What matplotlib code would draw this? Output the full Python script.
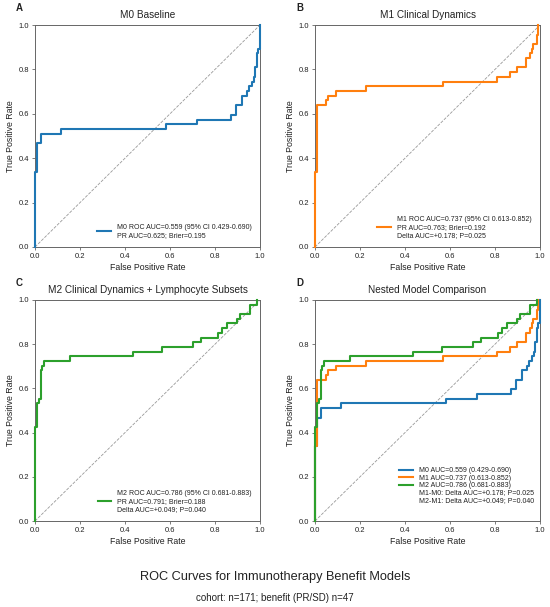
import matplotlib
matplotlib.use("Agg")
import matplotlib.pyplot as plt

plt.rcParams['font.family'] = ['Liberation Sans', 'DejaVu Sans']

# ROC step points (fpr, tpr), drawn as steps-post
m0_fpr = [0.0, 0.0, 0.010, 0.025, 0.115, 0.580, 0.720, 0.870, 0.893, 0.919, 0.944, 0.953, 0.963, 0.973, 0.979, 0.985, 0.993, 1.0]
m0_tpr = [0.0, 0.340, 0.468, 0.511, 0.532, 0.553, 0.574, 0.596, 0.638, 0.681, 0.702, 0.723, 0.745, 0.766, 0.809, 0.872, 0.894, 1.0]

m1_fpr = [0.0, 0.0, 0.010, 0.049, 0.059, 0.092, 0.225, 0.570, 0.807, 0.867, 0.896, 0.936, 0.955, 0.963, 0.970, 0.985, 0.993]
m1_tpr = [0.0, 0.340, 0.638, 0.660, 0.681, 0.702, 0.723, 0.745, 0.766, 0.787, 0.809, 0.851, 0.872, 0.894, 0.915, 0.957, 1.0]

m2_fpr = [0.0, 0.0, 0.010, 0.019, 0.025, 0.033, 0.040, 0.156, 0.437, 0.566, 0.704, 0.737, 0.815, 0.830, 0.852, 0.896, 0.911, 0.956, 0.985]
m2_tpr = [0.0, 0.426, 0.532, 0.553, 0.681, 0.702, 0.723, 0.745, 0.766, 0.787, 0.809, 0.830, 0.851, 0.872, 0.894, 0.915, 0.936, 0.979, 1.0]

model_names = ['M0', 'M1', 'M2']
roc_auc = [0.559, 0.737, 0.786]
ci_low = [0.429, 0.613, 0.681]
ci_high = [0.690, 0.852, 0.883]
pr_auc = [0.625, 0.763, 0.791]
brier = [0.195, 0.192, 0.188]
delta_auc = [None, 0.178, 0.049]
delta_p = [None, 0.025, 0.040]

panel_titles = ['M0 Baseline', 'M1 Clinical Dynamics',
                'M2 Clinical Dynamics + Lymphocyte Subsets', 'Nested Model Comparison']
panel_letters = ['A', 'B', 'C', 'D']
colors = ['#1f77b4', '#ff7f0e', '#2ca02c']

curves = [(m0_fpr, m0_tpr), (m1_fpr, m1_tpr), (m2_fpr, m2_tpr)]

W, H = 550, 607
fig = plt.figure(figsize=(W / 100, H / 100), dpi=100)

# axes boxes in pixels: left, top, right, bottom
boxes = [(35, 25, 260, 247), (315, 25, 540, 247),
         (35, 300, 260, 521), (315, 300, 540, 521)]
spine_col = '#666666'
text_col = '#222222'


def make_ax(i):
    l, t, r, b = boxes[i]
    ax = fig.add_axes([l / W, 1 - b / H, (r - l) / W, (b - t) / H])
    ax.set_xlim(0, 1)
    ax.set_ylim(0, 1)
    ax.set_xticks([0, 0.2, 0.4, 0.6, 0.8, 1.0])
    ax.set_yticks([0, 0.2, 0.4, 0.6, 0.8, 1.0])
    ax.tick_params(labelsize=5.5, length=2.5, width=0.6, color=spine_col, labelcolor=text_col, pad=1.5)
    for s in ax.spines.values():
        s.set_color(spine_col)
        s.set_linewidth(0.7)
    ax.plot([0, 1], [0, 1], ls='--', color='#999999', lw=0.6, zorder=1)
    ax.set_xlabel('False Positive Rate', fontsize=6.3, color=text_col, labelpad=2.5)
    ax.set_ylabel('True Positive Rate', fontsize=6.3, color=text_col, labelpad=2.5)
    ax.set_title(panel_titles[i], fontsize=7.2, color=text_col, pad=5)
    fig.text((l - 19) / W, 1 - (t - 17) / H, panel_letters[i], fontsize=7, fontweight='bold',
             color=text_col, va='center', ha='left')
    return ax


for i in range(3):
    ax = make_ax(i)
    fpr, tpr = curves[i]
    label = (f'{model_names[i]} ROC AUC={roc_auc[i]:.3f} (95% CI {ci_low[i]:.3f}-{ci_high[i]:.3f})\n'
             f'PR AUC={pr_auc[i]:.3f}; Brier={brier[i]:.3f}')
    if delta_auc[i] is not None:
        label += f'\nDelta AUC=+{delta_auc[i]:.3f}; P={delta_p[i]:.3f}'
    ax.plot(fpr, tpr, drawstyle='steps-post', color=colors[i], lw=1.5, label=label,
            clip_on=False, zorder=3)
    ax.legend(loc='lower right', frameon=False, fontsize=5, labelcolor=text_col, borderaxespad=0.8)

# panel D: all three models
ax = make_ax(3)
for i in range(3):
    fpr, tpr = curves[i]
    ax.plot(fpr, tpr, drawstyle='steps-post', color=colors[i], lw=1.5, clip_on=False, zorder=3,
            label=f'{model_names[i]} AUC={roc_auc[i]:.3f} ({ci_low[i]:.3f}-{ci_high[i]:.3f})')
for i in (1, 2):
    ax.plot([], [], ' ', label=f'{model_names[i]}-{model_names[i - 1]}: Delta AUC=+{delta_auc[i]:.3f}; P={delta_p[i]:.3f}')
ax.legend(loc='lower right', frameon=False, fontsize=5, labelcolor=text_col, labelspacing=0.05,
          bbox_to_anchor=(1, 0.05))

fig.text(0.5, 1 - 577 / H, 'ROC Curves for Immunotherapy Benefit Models', ha='center', va='center',
         fontsize=9.2, color=text_col)
fig.text(0.5, 1 - 598 / H, 'cohort: n=171; benefit (PR/SD) n=47', ha='center', va='center',
         fontsize=7, color=text_col)

fig.savefig('out.png', dpi=100)
